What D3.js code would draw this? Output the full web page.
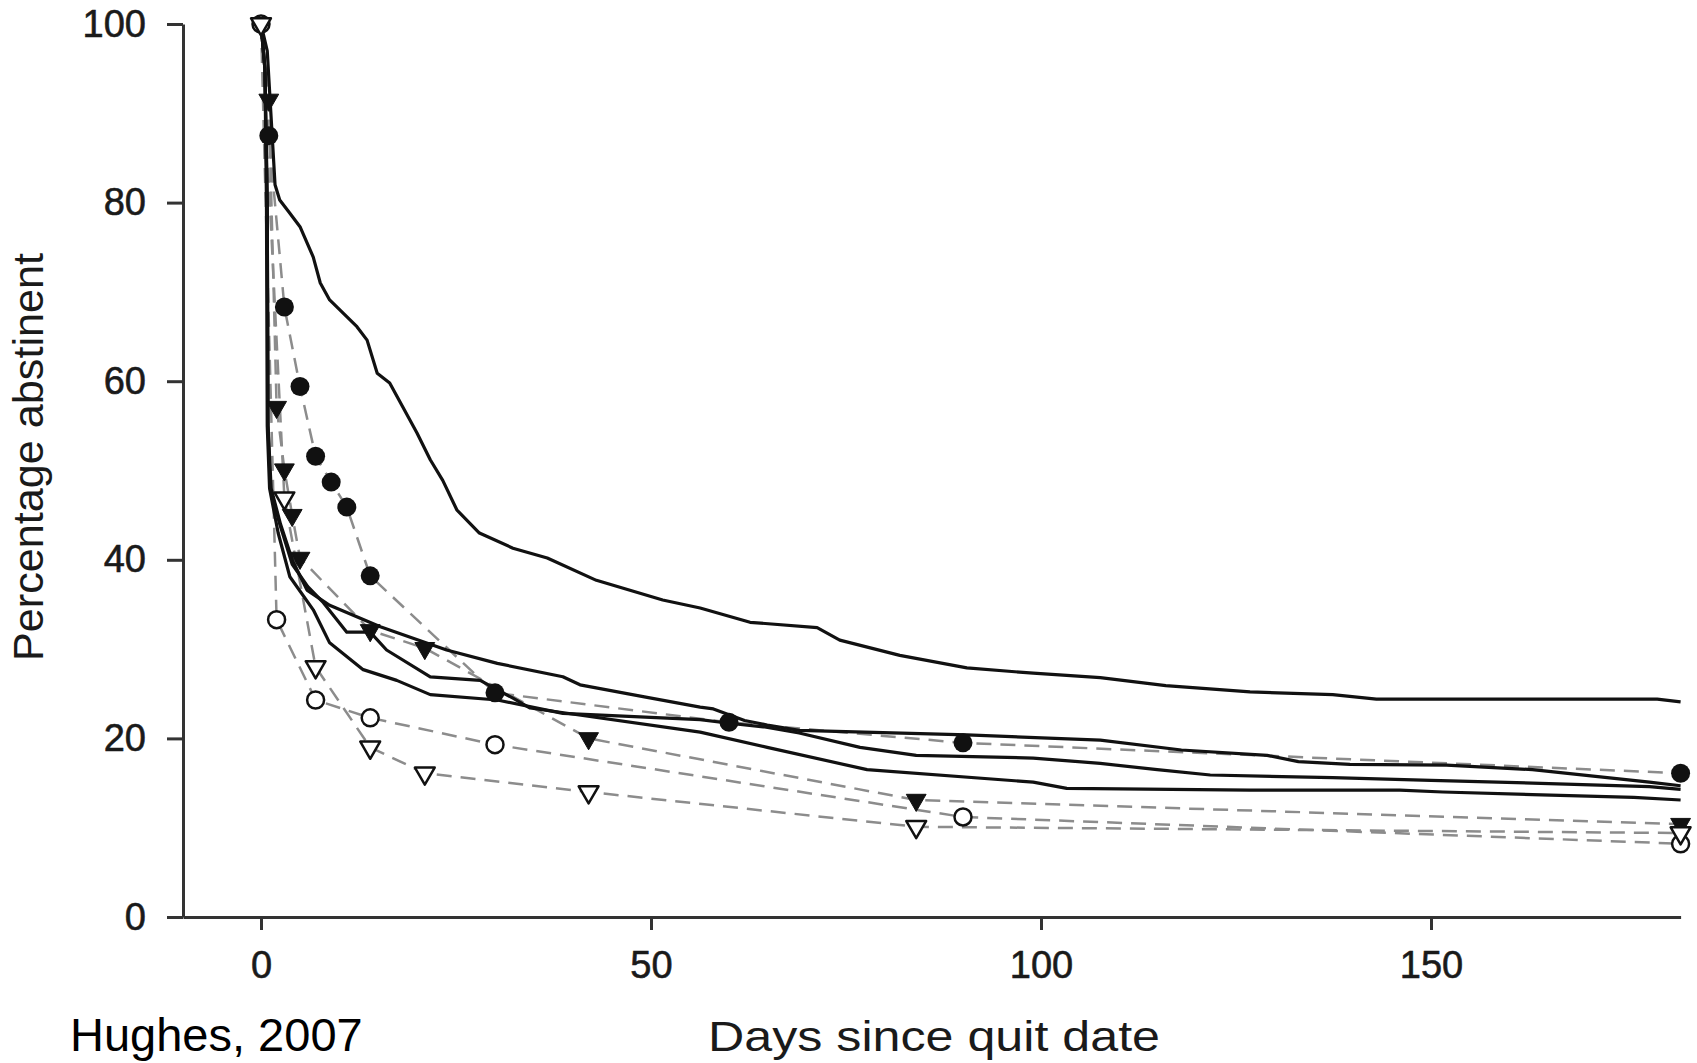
<!DOCTYPE html>
<html>
<head>
<meta charset="utf-8">
<script src="https://cdn.jsdelivr.net/npm/d3@7"></script>
<style>
    body { margin: 0; background: #fff; }
    svg { display: block; }
    text { font-family: "Liberation Sans", Arial, Helvetica, sans-serif; }
</style>
</head>
<body>
<svg id="chart"></svg>
<script>
(function () {
    'use strict';

    // ticks
    var xTicks = [0, 50, 100, 150];
    var yTicks = [0, 20, 40, 60, 80, 100];

    // solid survival curves [day, percent]
    var curveTop = [[0, 100], [0.8, 97], [1.4, 88], [1.8, 82], [2.4, 80.3], [3.7, 78.8], [5, 77.3], [6.7, 73.9],
        [7.6, 71], [8.8, 69.1], [12.3, 66.1], [13.6, 64.6], [14.9, 60.9], [16.5, 59.8], [20, 54.2],
        [21.7, 51.2], [23.3, 48.9], [25.1, 45.6], [28, 43], [32.3, 41.3], [36.7, 40.2], [43, 37.7],
        [51.5, 35.5], [56.3, 34.6], [62.7, 33], [71.3, 32.4], [74.2, 31], [81.9, 29.3], [90.5, 27.9],
        [99, 27.3], [107.6, 26.8], [116, 25.9], [126.8, 25.2], [137.4, 24.9], [143, 24.4], [179, 24.4],
        [182, 24.1]];
    var curveB = [[0, 100], [0.5, 95], [0.8, 80], [0.9, 55], [1.3, 48], [2.5, 44], [4, 40], [5.9, 36.6],
        [8.8, 34.9], [15.3, 32.5], [23.8, 29.9], [30.3, 28.4], [38.7, 26.9], [40.9, 26], [49.5, 24.6],
        [56.3, 23.5], [58, 23.3], [62, 22], [64.9, 21.5], [69, 20.9], [90.5, 20.4], [107.6, 19.8],
        [118, 18.7], [129, 18.1], [133, 17.4], [139.6, 17.1], [152, 17], [163, 16.5], [178, 15.1],
        [182, 14.7]];
    var curveC = [[0, 100], [0.5, 95], [0.8, 80], [0.9, 55], [1.2, 48], [2.4, 44], [4, 39.5], [6, 37],
        [8, 35.2], [11, 31.9], [14, 31.9], [16.1, 29.9], [21.7, 26.9], [28.1, 26.5], [32.3, 24.5],
        [34.5, 23.4], [56.3, 20.7], [64.9, 19], [77.7, 16.5], [99, 15.1], [103.3, 14.4], [126.8, 14.2],
        [146, 14.2], [151.5, 14], [163, 13.7], [176, 13.4], [182, 13.1]];
    var curveD = [[0, 100], [0.5, 95], [0.7, 80], [0.8, 55], [1.1, 48], [2.2, 43], [3.7, 38.1],
        [6.7, 34.4], [8.8, 30.7], [13.1, 27.7], [17.4, 26.5], [21.7, 24.9], [30.3, 24.3], [38.7, 22.8],
        [56.3, 22.1], [60, 21.7], [64.4, 21.3], [69, 20.6], [76.8, 19], [84, 18.1], [99, 17.8],
        [107.6, 17.2], [114.9, 16.5], [121.7, 15.9], [137.4, 15.6], [150, 15.3], [163, 15],
        [178, 14.6], [182, 14.3]];

    // dashed series with markers
    var filledCircleDays = [0, 1, 3, 5, 7, 9, 11, 14, 30, 60, 90, 182];
    var filledCircleValues = [100, 87.5, 68.3, 59.4, 51.6, 48.7, 45.9, 38.2, 25.1, 21.8, 19.5, 16.1];
    var filledTriDays = [0, 1, 2, 3, 4, 5, 14, 21, 42, 84, 182];
    var filledTriValues = [100, 91.5, 57.1, 50.1, 45, 40.2, 32.1, 30.1, 20, 13.1, 10.4];
    var openCircleDays = [0, 2, 7, 14, 30, 90, 182];
    var openCircleValues = [100, 33.3, 24.3, 22.3, 19.3, 11.2, 8.2];
    var openTriDays = [0, 3, 7, 14, 21, 42, 84, 182];
    var openTriValues = [100, 46.9, 28, 19, 16.1, 14, 10.1, 9.4];

    var width = 1697;
    var height = 1063;

    var svg = d3.select('#chart')
        .attr('width', width)
        .attr('height', height);

    var x = d3.scaleLinear().domain([-10, 182]).range([183, 1680.6]);
    var y = d3.scaleLinear().domain([0, 100]).range([917, 24]);

    var line = d3.line()
        .x(function (d) { return x(d[0]); })
        .y(function (d) { return y(d[1]); });

    function zip(days, values) {
        return days.map(function (d, i) { return [d, values[i]]; });
    }

    var markerSeries = [
        { pts: zip(filledCircleDays, filledCircleValues), shape: 'circle', filled: true },
        { pts: zip(filledTriDays, filledTriValues), shape: 'tri', filled: true },
        { pts: zip(openCircleDays, openCircleValues), shape: 'circle', filled: false },
        { pts: zip(openTriDays, openTriValues), shape: 'tri', filled: false }
    ];

    // axes
    var yAxis = svg.append('g')
        .attr('transform', 'translate(' + x(-10) + ',0)')
        .call(d3.axisLeft(y).tickValues(yTicks).tickSize(16).tickSizeOuter(0).tickPadding(21));

    var xAxis = svg.append('g')
        .attr('transform', 'translate(0,' + y(0) + ')')
        .call(d3.axisBottom(x).tickValues(xTicks).tickSize(13).tickSizeOuter(0).tickPadding(21));

    [yAxis, xAxis].forEach(function (g) {
        g.select('.domain').attr('stroke', '#333').attr('stroke-width', 3);
        g.selectAll('.tick line').attr('stroke', '#333').attr('stroke-width', 3);
        g.selectAll('.tick text')
            .attr('fill', '#1a1a1a')
            .attr('stroke', '#1a1a1a')
            .attr('stroke-width', 0.6)
            .style('font-size', '38px')
            .style('font-family', '"Liberation Sans", Arial, sans-serif');
    });

    // dashed lines
    svg.append('g').selectAll('path')
        .data(markerSeries)
        .enter().append('path')
        .attr('d', function (d) { return line(d.pts); })
        .attr('fill', 'none')
        .attr('stroke', '#8c8c8c')
        .attr('stroke-width', 2.5)
        .attr('stroke-dasharray', '15,9');

    // solid lines
    svg.append('g').selectAll('path')
        .data([curveTop, curveB, curveC, curveD])
        .enter().append('path')
        .attr('d', line)
        .attr('fill', 'none')
        .attr('stroke', '#111')
        .attr('stroke-width', 3.2)
        .attr('stroke-linejoin', 'round');

    // markers (filled series have no symbol at day 0)
    var tri = d3.symbol().type(d3.symbolTriangle).size(170);
    markerSeries.forEach(function (s) {
        var pts = s.filled ? s.pts.slice(1) : s.pts;
        var g = svg.append('g');
        if (s.shape === 'circle') {
            g.selectAll('circle')
                .data(pts)
                .enter().append('circle')
                .attr('cx', function (d) { return x(d[0]); })
                .attr('cy', function (d) { return y(d[1]); })
                .attr('r', s.filled ? 9.5 : 8.5)
                .attr('fill', s.filled ? '#111' : '#fff')
                .attr('stroke', '#111')
                .attr('stroke-width', s.filled ? 0 : 2.5);
        } else {
            g.selectAll('path')
                .data(pts)
                .enter().append('path')
                .attr('d', tri)
                .attr('transform', function (d) {
                    return 'translate(' + x(d[0]) + ',' + y(d[1]) + ') rotate(180)';
                })
                .attr('fill', s.filled ? '#111' : '#fff')
                .attr('stroke', '#111')
                .attr('stroke-width', s.filled ? 1 : 2.5)
                .attr('stroke-linejoin', 'round');
        }
    });

    // labels
    svg.append('text')
        .attr('transform', 'translate(43,457) rotate(-90)')
        .attr('text-anchor', 'middle')
        .attr('fill', '#1a1a1a')
        .style('font-size', '42px')
        .attr('textLength', 408)
        .attr('lengthAdjust', 'spacingAndGlyphs')
        .text('Percentage abstinent');

    svg.append('text')
        .attr('x', 708)
        .attr('y', 1051)
        .attr('fill', '#1a1a1a')
        .style('font-size', '43px')
        .attr('textLength', 452)
        .attr('lengthAdjust', 'spacingAndGlyphs')
        .text('Days since quit date');

    svg.append('text')
        .attr('x', 70)
        .attr('y', 1051)
        .attr('fill', '#000')
        .style('font-size', '47px')
        .text('Hughes, 2007');
})();
</script>
</body>
</html>
